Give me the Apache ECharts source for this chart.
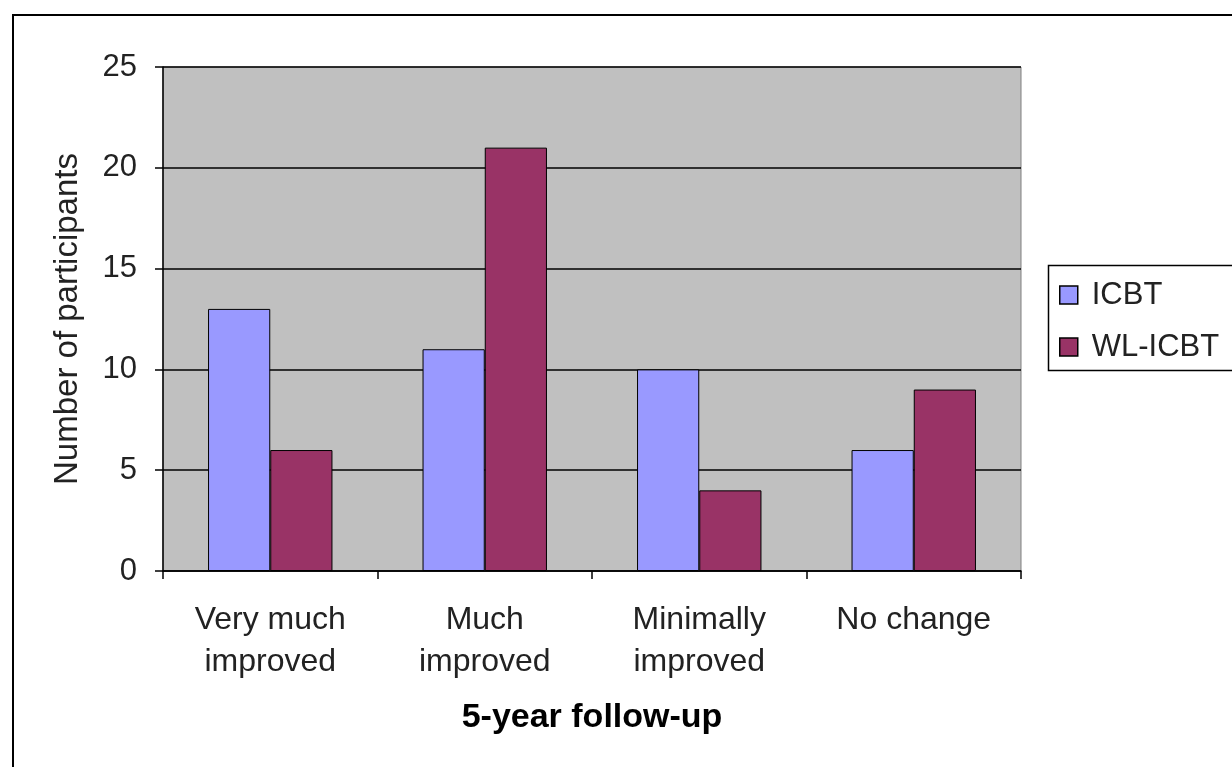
<!DOCTYPE html>
<html>
<head>
<meta charset="utf-8">
<script src="https://cdn.jsdelivr.net/npm/echarts@6/dist/echarts.min.js"></script>
<style>
html,body{margin:0;padding:0;background:#fff;}
#chart{width:1232px;height:767px;}
</style>
</head>
<body>
<div id="chart"></div>
<script>
const categories = ['Very much\nimproved', 'Much\nimproved', 'Minimally\nimproved', 'No change'];
const icbt = [13, 11, 10, 6];
const wlIcbt = [6, 21, 4, 9];
const seriesNames = ['ICBT', 'WL-ICBT'];
const yTicks = {min: 0, max: 25, interval: 5};

const font = 'Liberation Sans, Arial, sans-serif';
const chart = echarts.init(document.getElementById('chart'));
chart.setOption({
  animation: false,
  backgroundColor: '#fff',
  graphic: [
    {type: 'rect', shape: {x: 13, y: 15, width: 1400, height: 900}, style: {fill: 'none', stroke: '#000', lineWidth: 2}, silent: true, z: -1},
    {type: 'rect', shape: {x: 1048.5, y: 265.5, width: 300, height: 105}, style: {fill: '#fff', stroke: '#000', lineWidth: 1.5}, silent: true, z: 0}
  ],
  legend: {
    orient: 'vertical',
    left: 1054,
    top: 274,
    itemWidth: 18,
    itemHeight: 18,
    itemGap: 20,
    z: 5,
    data: seriesNames.map(n => ({name: n, icon: 'rect'})),
    textStyle: {fontFamily: font, fontSize: 31, lineHeight: 32, color: '#222', padding: [0, 0, 0, 9]},
    itemStyle: {borderColor: '#000', borderWidth: 1.5}
  },
  grid: {
    left: 163, top: 67, width: 858, height: 504,
    show: true, backgroundColor: '#C0C0C0', borderColor: '#808080', borderWidth: 1
  },
  xAxis: {
    type: 'category',
    data: categories,
    name: '5-year follow-up',
    nameLocation: 'middle',
    nameGap: 130,
    nameTextStyle: {fontFamily: font, fontSize: 34, fontWeight: 'bold', color: '#000'},
    axisLine: {lineStyle: {color: '#000', width: 1.5}},
    axisTick: {show: true, length: 8, alignWithLabel: false, lineStyle: {color: '#000', width: 1.5}},
    axisLabel: {fontFamily: font, fontSize: 32, color: '#222', margin: 28, lineHeight: 42, interval: 0}
  },
  yAxis: {
    type: 'value',
    min: yTicks.min, max: yTicks.max, interval: yTicks.interval,
    name: 'Number of participants',
    nameLocation: 'middle',
    nameGap: 79,
    nameTextStyle: {fontFamily: font, fontSize: 33, color: '#222'},
    axisLine: {show: true, lineStyle: {color: '#000', width: 1.5}},
    axisTick: {show: true, length: 8, lineStyle: {color: '#000', width: 1.5}},
    axisLabel: {fontFamily: font, fontSize: 31, color: '#222', margin: 26},
    splitLine: {show: true, lineStyle: {color: '#000', width: 1.5}}
  },
  series: [
    {name: seriesNames[0], type: 'bar', data: icbt, barGap: '0%', barCategoryGap: '42%',
     itemStyle: {color: '#9999FF', borderColor: '#000', borderWidth: 1}},
    {name: seriesNames[1], type: 'bar', data: wlIcbt, barGap: '0%', barCategoryGap: '42%',
     itemStyle: {color: '#993366', borderColor: '#000', borderWidth: 1}}
  ]
});
</script>
</body>
</html>
